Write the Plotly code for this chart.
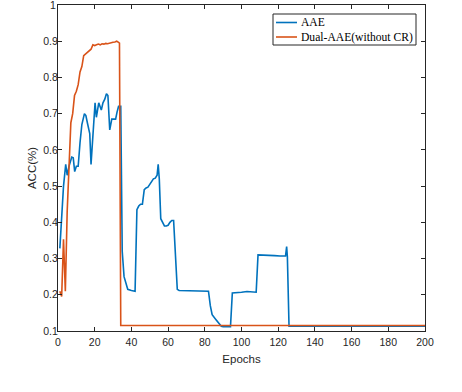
import plotly.graph_objects as go

aae_epochs = [1, 2, 3, 4.2, 5, 6, 7.5, 8.3, 9.1, 10, 11, 12, 13, 14.4, 15.2, 16, 17.3, 18, 19, 20.2,
              20.9, 22.2, 23.6, 24.5, 25.5, 26.4, 27.2, 28.2, 29.3, 30.5, 31.4, 32.2, 33, 34.2, 35, 36,
              37, 38, 40, 42, 43, 44, 45, 46, 47, 48, 49, 50, 51, 52, 53, 54, 54.6, 55.2, 56, 57,
              58, 59, 60, 61, 62, 63, 64, 65, 66, 70, 75, 80, 82, 83, 84, 86, 88, 89, 90, 94,
              95, 97, 100, 103, 108, 109, 111, 113, 115, 118, 121, 124, 124.6, 125, 125.9, 200]
aae_acc = [0.328, 0.42, 0.50, 0.56, 0.53, 0.555, 0.58, 0.578, 0.54, 0.555, 0.555, 0.62, 0.67, 0.70,
           0.695, 0.675, 0.645, 0.56, 0.64, 0.73, 0.69, 0.73, 0.71, 0.73, 0.74, 0.755, 0.75, 0.655,
           0.685, 0.685, 0.685, 0.705, 0.72, 0.72, 0.32, 0.25, 0.23, 0.215, 0.212, 0.21, 0.435,
           0.445, 0.45, 0.45, 0.49, 0.495, 0.497, 0.505, 0.515, 0.52, 0.522, 0.53, 0.56, 0.52, 0.41,
           0.40, 0.39, 0.39, 0.392, 0.40, 0.405, 0.405, 0.32, 0.215, 0.212, 0.212, 0.211, 0.211,
           0.21, 0.17, 0.145, 0.132, 0.12, 0.113, 0.112, 0.112, 0.205, 0.205, 0.207, 0.209, 0.207,
           0.31, 0.31, 0.308, 0.31, 0.308, 0.307, 0.307, 0.333, 0.305, 0.113, 0.113]

dual_epochs = [1, 1.5, 2, 3, 4, 5, 6, 7, 8, 9, 10, 11, 12, 13, 14, 15, 16, 17, 18, 19, 20, 21, 22,
               23, 24, 25, 26, 27, 28, 29, 30, 31, 32, 33, 33.5, 34.2, 200]
dual_acc = [0.21, 0.20, 0.195, 0.353, 0.21, 0.43, 0.55, 0.675, 0.70, 0.75, 0.762, 0.78, 0.815, 0.83,
            0.86, 0.865, 0.868, 0.875, 0.878, 0.89, 0.888, 0.89, 0.892, 0.89, 0.893, 0.892, 0.894,
            0.893, 0.895, 0.895, 0.897, 0.898, 0.90, 0.897, 0.895, 0.115, 0.115]

series_names = ["AAE", "Dual-AAE(without CR)"]
series_colors = ["#0072BD", "#D95319"]

y_ticks = [0.1, 0.2, 0.3, 0.4, 0.5, 0.6, 0.7, 0.8, 0.9, 1.0]
y_labels = ["0.1", "0.2", "0.3", "0.4", "0.5", "0.6", "0.7", "0.8", "0.9", ""]
y_top_label = "1"
x_ticks = [0, 20, 40, 60, 80, 100, 120, 140, 160, 180, 200]

W, H = 462, 392
ML, MR, MT, MB = 58, 37, 5, 61

fig = go.Figure()
for xs, ys, nm, col in [(aae_epochs, aae_acc, series_names[0], series_colors[0]),
                        (dual_epochs, dual_acc, series_names[1], series_colors[1])]:
    fig.add_trace(go.Scatter(x=xs, y=ys, mode="lines", name=nm,
                             line=dict(color=col, width=1.6), showlegend=False))

tick_font = dict(family="Liberation Sans, Arial", size=10.5, color="#262626")
title_font = dict(family="Liberation Sans, Arial", size=11.5, color="#262626")
axis_common = dict(showgrid=False, zeroline=False, showline=True, linecolor="#262626", linewidth=1,
                   mirror="ticks", ticks="inside", ticklen=4, tickcolor="#262626",
                   tickfont=tick_font)

pw, ph = W - ML - MR, H - MT - MB
def px(x):
    return (x - ML) / pw
def py(y):
    return (H - MB - y) / ph

# manual MATLAB-style legend box
shapes = [dict(type="rect", xref="paper", yref="paper", x0=px(273), x1=px(416), y0=py(45), y1=py(14),
               line=dict(color="#262626", width=1), fillcolor="white", layer="above")]
annotations = []
for i, (nm, col) in enumerate(zip(series_names, series_colors)):
    yy = 22.5 + i * 14.5
    shapes.append(dict(type="line", xref="paper", yref="paper", x0=px(276), x1=px(297), y0=py(yy), y1=py(yy),
                       line=dict(color=col, width=1.6), layer="above"))
    annotations.append(dict(xref="paper", yref="paper", x=px(299), y=py(yy), text=nm, showarrow=False,
                            xanchor="left", yanchor="middle",
                            font=dict(family="Liberation Serif, Times New Roman", size=11.6, color="black")))

# top y tick label (plotly hides it at the very edge of the figure)
annotations.append(dict(xref="paper", yref="y", x=0, y=y_ticks[-1], text=y_top_label, showarrow=False,
                        xanchor="right", yanchor="middle", xshift=0, font=tick_font))

fig.update_layout(
    width=W, height=H,
    margin=dict(l=ML, r=MR, t=MT, b=MB),
    paper_bgcolor="white", plot_bgcolor="white",
    xaxis=dict(range=[0, 200], tickvals=x_ticks, automargin=False, ticklabelstandoff=1,
               title=dict(text="Epochs", font=title_font, standoff=8), **axis_common),
    yaxis=dict(range=[0.1, 1.00001], tickvals=y_ticks, ticktext=y_labels, automargin=False,
               ticklabelstandoff=-3,
               title=dict(text="ACC(%)", font=title_font, standoff=4), **axis_common),
    shapes=shapes,
    annotations=annotations,
    showlegend=False,
)

fig.write_html("out.html", config={"displayModeBar": False},
               post_script="document.body.style.margin='0';document.body.style.padding='0';")
